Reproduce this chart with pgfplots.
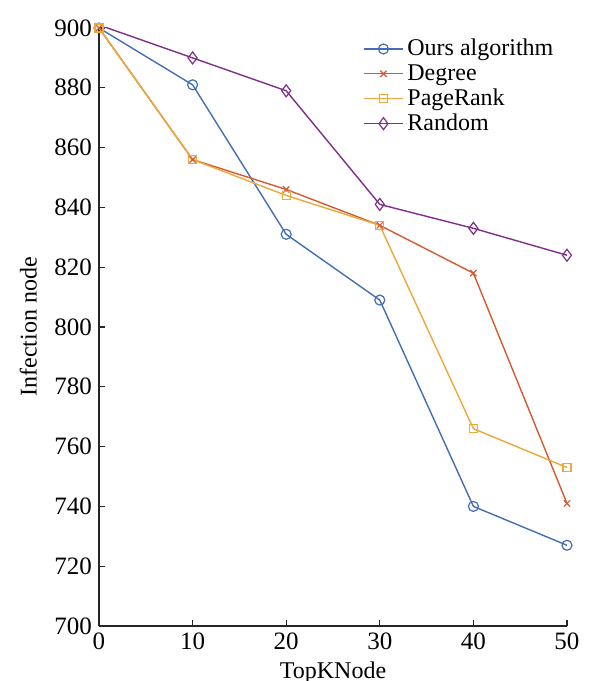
\documentclass[border=0pt]{standalone}
\usepackage{pgfplots}
\pgfplotsset{compat=1.18}
\usepackage{fontspec}
\setmainfont{Liberation Serif}
\definecolor{c1}{RGB}{68,110,180}
\definecolor{c2}{RGB}{212,90,48}
\definecolor{c3}{RGB}{236,168,58}
\definecolor{c4}{RGB}{126,48,136}
\begin{document}
\begin{tikzpicture}
\begin{axis}[
  scale only axis,
  width=234bp, height=299bp,
  xmin=0, xmax=50, ymin=700, ymax=900,
  xtick={0,10,20,30,40,50},
  xticklabels={0,10,20,30,40,50},
  ytick={700,720,740,760,780,800,820,840,860,880,900},
  yticklabels={700,720,740,760,780,800,820,840,860,880,900},
  axis x line=bottom, axis y line=left,
  axis line style={-, line width=0.7bp, black!85},
  tick align=inside, major tick length=3bp,
  tick style={black!85, line width=0.6bp},
  ticklabel style={font=\rmfamily\fontsize{12.5bp}{14bp}\selectfont},
  label style={font=\rmfamily\fontsize{12bp}{14bp}\selectfont},
  xlabel={TopKNode}, ylabel={Infection node},
  xlabel style={yshift=1bp},
  ylabel style={yshift=2bp},
  legend style={draw=none, fill=none, at={(0.56,0.992)}, anchor=north west,
    font=\rmfamily\fontsize{12bp}{12bp}\selectfont, row sep=-1.2bp, inner sep=1bp},
  legend cell align=left,
  legend image code/.code={\draw[mark repeat=2,mark phase=2] plot coordinates {(0cm,0cm) (0.34cm,0cm) (0.68cm,0cm)};},
  every axis plot/.append style={line width=0.7bp},
]
\addplot[c1, mark=o, mark size=2.5bp, mark options={line width=0.6bp}] coordinates {(0,900) (10,881) (20,831) (30,809) (40,740) (50,727)};
\addlegendentry{Ours algorithm}
\addplot[c2, mark=x, mark size=2.2bp, mark options={line width=0.6bp}] coordinates {(0,900) (10,856) (20,846) (30,834) (40,818) (50,741)};
\addlegendentry{Degree}
\addplot[c3, mark=square, mark size=2bp, mark options={line width=0.6bp}] coordinates {(0,900) (10,856) (20,844) (30,834) (40,766) (50,753)};
\addlegendentry{PageRank}
\addplot[c4, mark=diamond, mark size=3bp, mark options={line width=0.6bp}] coordinates {(0,901) (10,890) (20,879) (30,841) (40,833) (50,824)};
\addlegendentry{Random}
\end{axis}
\pgfresetboundingbox
\path (current axis.south west) ++(-49.5bp,-27.5bp) rectangle ([xshift=11.5bp,yshift=14bp]current axis.north east);
\end{tikzpicture}
\end{document}
